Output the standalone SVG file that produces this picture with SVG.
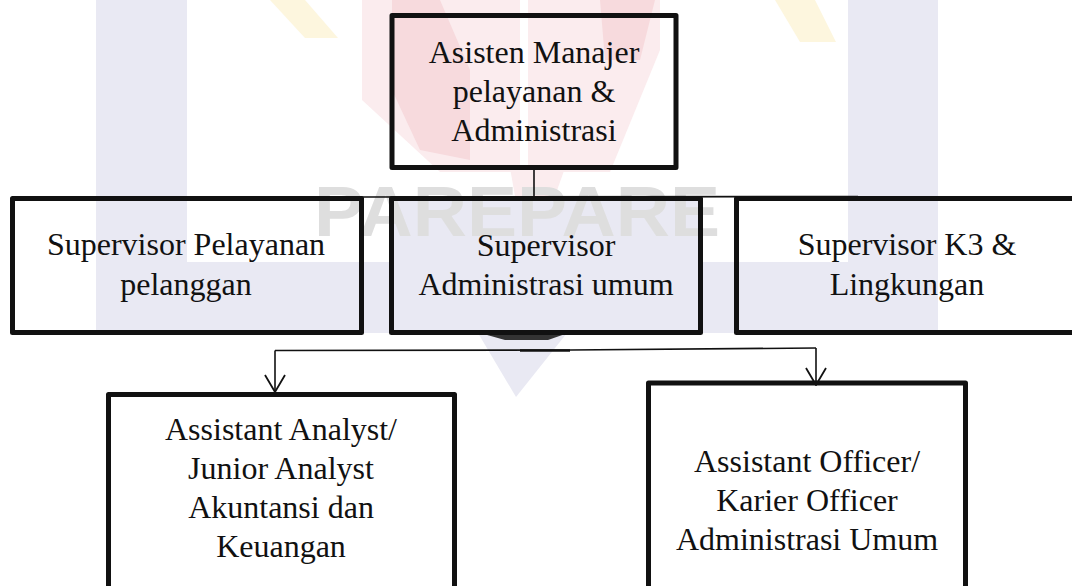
<svg xmlns="http://www.w3.org/2000/svg" width="1072" height="586" viewBox="0 0 1072 586">
<style>
.box{fill:none;stroke:#111;stroke-width:5;stroke-linejoin:round}
.lbl{font-family:"Liberation Serif","Times New Roman",serif;font-size:32px;fill:#111;text-anchor:middle}
.con{fill:none;stroke:#111;stroke-width:1.6}
.wm-lav{fill:#e9e9f3}
.wm-pink{fill:#fbecee}
.wm-red{fill:#f7dadd}
.wm-yel{fill:#fdf6de}
</style>
<defs>
<marker id="arr" viewBox="0 0 20 24" refX="19" refY="12" markerWidth="20" markerHeight="24" markerUnits="userSpaceOnUse" orient="auto">
<path d="M2,2 L19,12 L2,22" fill="none" stroke="#111" stroke-width="1.8"/>
</marker>
</defs>
<rect width="1072" height="586" fill="#fff"/>
<g id="watermark">
<rect class="wm-lav" x="96" y="0" width="91" height="333"/>
<rect class="wm-lav" x="848" y="0" width="90" height="333"/>
<rect class="wm-lav" x="96" y="262" width="842" height="71"/>
<rect class="wm-lav" x="391" y="198" width="310" height="135"/>
<polygon class="wm-lav" points="478,333 567,333 516,397"/>
<polygon fill="#333" points="480,333 568,333 548,340 505,340"/>
<polygon class="wm-pink" points="362,0 520,0 520,172 440,172 362,100"/>
<polygon class="wm-pink" points="528,0 660,0 660,50 610,172 528,172"/>
<polygon class="wm-red" points="392,0 440,0 470,70 470,160 420,150 392,90"/>
<polygon class="wm-red" points="600,0 655,0 640,60 605,60"/>
<polygon class="wm-pink" points="510,168 565,168 555,196 515,196"/>
<polygon class="wm-yel" points="270,0 305,0 338,38 305,38"/>
<polygon class="wm-yel" points="775,0 815,0 836,42 800,42"/>
<text x="314" y="236" textLength="406" lengthAdjust="spacingAndGlyphs" style="font-family:'Liberation Sans',Arial,sans-serif;font-weight:bold;font-size:70px;fill:#dedede">PAREPARE</text>
</g>
<g id="connectors">
<line class="con" x1="534" y1="170" x2="534" y2="198"/>
<line class="con" x1="362" y1="197" x2="858" y2="196.5"/>
<polyline class="con" points="275,350.5 570,350 816,348"/>
<line x1="520" y1="350.5" x2="570" y2="350.5" stroke="#111" stroke-width="2.6"/>
<line class="con" x1="275" y1="350.5" x2="275" y2="392" marker-end="url(#arr)"/>
<line class="con" x1="816" y1="348" x2="816" y2="385" marker-end="url(#arr)"/>
</g>
<g id="node-asisten-manajer">
<rect class="box" x="392" y="15.5" width="284" height="152"/>
<text class="lbl" x="534" y="63">Asisten Manajer</text>
<text class="lbl" x="534" y="102">pelayanan &amp;</text>
<text class="lbl" x="534" y="141">Administrasi</text>
</g>
<g id="node-sup-pelayanan">
<rect class="box" x="12.5" y="198.5" width="349" height="134"/>
<text class="lbl" x="186" y="255">Supervisor Pelayanan</text>
<text class="lbl" x="186" y="295">pelanggan</text>
</g>
<g id="node-sup-administrasi">
<rect class="box" x="391.5" y="198.5" width="309" height="134"/>
<text class="lbl" x="546" y="256">Supervisor</text>
<text class="lbl" x="546" y="295">Administrasi umum</text>
</g>
<g id="node-sup-k3">
<rect class="box" x="736.5" y="198.5" width="400" height="134"/>
<text class="lbl" x="907" y="255">Supervisor K3 &amp;</text>
<text class="lbl" x="907" y="295">Lingkungan</text>
</g>
<g id="node-assistant-analyst">
<rect class="box" x="108.5" y="394.5" width="346" height="250"/>
<text class="lbl" x="281" y="440">Assistant Analyst/</text>
<text class="lbl" x="281" y="479">Junior Analyst</text>
<text class="lbl" x="281" y="518">Akuntansi dan</text>
<text class="lbl" x="281" y="557">Keuangan</text>
</g>
<g id="node-assistant-officer">
<rect class="box" x="648.5" y="383" width="317" height="260"/>
<text class="lbl" x="807" y="472">Assistant Officer/</text>
<text class="lbl" x="807" y="511">Karier Officer</text>
<text class="lbl" x="807" y="550">Administrasi Umum</text>
</g>
</svg>
